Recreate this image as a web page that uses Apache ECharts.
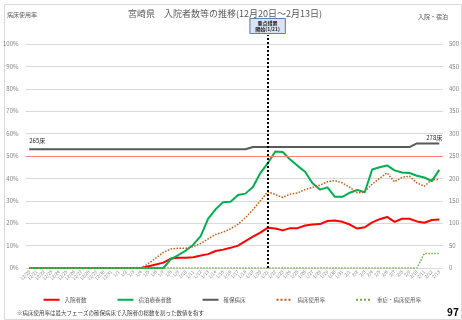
<!DOCTYPE html>
<html><head><meta charset="utf-8">
<script src="https://cdn.jsdelivr.net/npm/echarts@6/dist/echarts.min.js"></script>
<style>html,body{margin:0;padding:0;background:#fff}#c{width:462px;height:320px}</style>
</head><body><div id="c"></div>
<script>
const categories = ['12/20','12/21','12/22','12/23','12/24','12/25','12/26','12/27','12/28','12/29','12/30','12/31',
  '1/1','1/2','1/3','1/4','1/5','1/6','1/7','1/8','1/9','1/10','1/11','1/12','1/13','1/14','1/15','1/16','1/17','1/18','1/19','1/20',
  '1/21','1/22','1/23','1/24','1/25','1/26','1/27','1/28','1/29','1/30','1/31',
  '2/1','2/2','2/3','2/4','2/5','2/6','2/7','2/8','2/9','2/10','2/11','2/12','2/13'];
const inpatients = [0,0,0,0,0,0,0,0,0,0,0,0,0,0,0,0,
  4,8,12,21,23,23,24,28,31,38,41,45,50,60,70,79,90,88,84,89,89,95,97,98,105,106,103,97,88,91,102,109,114,103,110,110,104,101,107,108];
const hotel = [0,0,0,0,0,0,0,0,0,0,0,0,0,0,0,0,0,0,0,
  20,29,39,52,71,110,131,147,148,163,166,181,212,234,260,259,242,228,215,189,175,180,159,159,168,174,169,220,225,229,218,213,212,206,202,194,219];
const securedBeds = [265,265,265,265,265,265,265,265,265,265,265,265,265,265,265,265,265,265,265,265,265,265,265,265,265,265,265,265,265,265,
  270,270,270,270,270,270,270,270,270,270,270,270,270,270,270,270,270,270,270,270,270,270,
  278,278,278,278];
const bedUseRate = [0,0,0,0,0,0,0,0,0,0,0,0,0,0,0,0,
  2,4.5,7,8.5,8.8,8.8,9.5,11,13,15,16,17.5,19.5,22.5,26,30,34,32.8,31.5,33,33.5,35,36,37,38.5,39,38,36,33.5,34,37.5,40,42.5,38.5,40.5,41,38,36.5,39.5,39.5];
const severeUseRate = [0,0,0,0,0,0,0,0,0,0,0,0,0,0,0,0,0,0,0,0,0,0,0,0,0,0,0,0,0,0,0,0,0,0,0,0,0,0,0,0,0,0,0,0,0,0,0,0,0,0,0,0,0,
  6.5,6.5,6.5];
const seriesNames = ['入院者数','宿泊療養者数','確保病床','病床使用率','重症・病床使用率'];
const measureStart = '1/21';
const threshold = 50;

const FONT = '"Noto Sans CJK JP", "Noto Sans", sans-serif';
const last = categories.length - 1;
const chart = echarts.init(document.getElementById('c'));
chart.setOption({
  animation: false,
  textStyle: {fontFamily: FONT},
  title: [
    {text: '宮崎県　入院者数等の推移(12月20日～2月13日)', left: 128, top: 9, padding: 0,
     textStyle: {fontSize: 9, fontWeight: 'normal', color: '#595959', fontFamily: FONT}},
    {text: '病床使用率', left: 7, top: 12, padding: 0,
     textStyle: {fontSize: 6, fontWeight: 'normal', color: '#595959', fontFamily: FONT}},
    {text: '入院・宿泊', left: 418, top: 13.5, padding: 0,
     textStyle: {fontSize: 6, fontWeight: 'normal', color: '#595959', fontFamily: FONT}},
    {text: '※病床使用率は最大フェーズの確保病床で入院者の総数を割った数値を指す', left: 17, top: 310, padding: 0,
     textStyle: {fontSize: 5.5, fontWeight: 'normal', color: '#404040', fontFamily: FONT}},
    {text: '97', left: 447, top: 307, padding: 0,
     textStyle: {fontSize: 10, fontWeight: 'bold', color: '#000', fontFamily: FONT}}
  ],
  graphic: [{type: 'rect', left: 2, top: 2, silent: true,
    shape: {width: 457, height: 315}, style: {fill: 'none', stroke: '#d9d9d9', lineWidth: 1}}],
  legend: {left: 42.5, top: 297, itemWidth: 16, itemHeight: 6, itemGap: 30, padding: 0,
    itemStyle: {opacity: 0},
    textStyle: {fontSize: 5.5, color: '#595959', fontFamily: FONT}, data: seriesNames},
  grid: [{left: 25, right: 19, top: 44, bottom: 52}, {left: 25, right: 19, top: 35, bottom: 52}],
  xAxis: [
    {type: 'category', data: categories, gridIndex: 0, boundaryGap: true,
     axisLine: {show: false}, axisTick: {show: false},
     axisLabel: {interval: 0, rotate: 45, fontSize: 4.5, color: '#7f7f7f', margin: 3}},
    {type: 'category', data: categories, gridIndex: 1, boundaryGap: true, show: false}
  ],
  yAxis: [
    {type: 'value', gridIndex: 0, min: 0, max: 100, interval: 10, position: 'left',
     axisLabel: {formatter: '{value}%', fontSize: 6, color: '#7f7f7f', margin: 7},
     splitLine: {lineStyle: {color: '#d9d9d9', width: 1}}, axisLine: {show: false}, axisTick: {show: false}},
    {type: 'value', gridIndex: 0, min: 0, max: 500, interval: 50, position: 'right',
     axisLabel: {fontSize: 6, color: '#7f7f7f', margin: 6},
     splitLine: {show: false}, axisLine: {show: false}, axisTick: {show: false}},
    {type: 'value', gridIndex: 1, min: 0, max: 1, show: false}
  ],
  series: [
    {name: seriesNames[0], type: 'line', yAxisIndex: 1, data: inpatients, symbol: 'none',
     lineStyle: {color: '#ff0000', width: 2}, itemStyle: {color: '#ff0000'}},
    {name: seriesNames[1], type: 'line', yAxisIndex: 1, data: hotel, symbol: 'none',
     lineStyle: {color: '#00b050', width: 2}, itemStyle: {color: '#00b050'}},
    {name: seriesNames[2], type: 'line', yAxisIndex: 1, data: securedBeds, symbol: 'none',
     lineStyle: {color: '#595959', width: 2}, itemStyle: {color: '#595959'},
     markPoint: {symbol: 'rect', symbolSize: 1, itemStyle: {color: 'rgba(0,0,0,0)'}, silent: true,
       label: {show: true, fontSize: 6, color: '#262626', fontFamily: FONT, position: 'top'},
       data: [
         {coord: [categories[0], securedBeds[0]], value: securedBeds[0],
          label: {formatter: securedBeds[0] + '床', offset: [8, 0], distance: 5}},
         {coord: [categories[last], securedBeds[last]], value: securedBeds[last],
          label: {formatter: securedBeds[last] + '床', offset: [-5, 0], distance: 2}}
       ]}},
    {name: seriesNames[3], type: 'line', yAxisIndex: 0, data: bedUseRate, symbol: 'none',
     lineStyle: {color: '#c55a11', width: 1.5, type: 'dotted'}, itemStyle: {color: '#c55a11'},
     markLine: {silent: true, symbol: ['none', 'none'], label: {show: false},
       lineStyle: {color: '#ff8080', width: 1, type: 'solid'}, data: [{yAxis: threshold}]}},
    {name: seriesNames[4], type: 'line', yAxisIndex: 0, data: severeUseRate, symbol: 'none',
     lineStyle: {color: '#70ad47', width: 1.5, type: 'dotted'}, itemStyle: {color: '#70ad47'}},
    {type: 'line', xAxisIndex: 1, yAxisIndex: 2, data: [], symbol: 'none',
     markLine: {silent: true, symbol: ['none', 'none'],
       lineStyle: {color: '#000', width: 2, type: 'dotted'},
       label: {show: true, position: 'end', formatter: '重点措置\n開始(1/21)', fontSize: 5, fontWeight: 'bold',
         color: '#222', fontFamily: FONT, backgroundColor: '#dae3f3', borderColor: '#2f5597', borderWidth: 0.8,
         padding: [1, 5], lineHeight: 6, distance: 2},
       data: [{xAxis: measureStart}]}}
  ]
});
</script></body></html>
